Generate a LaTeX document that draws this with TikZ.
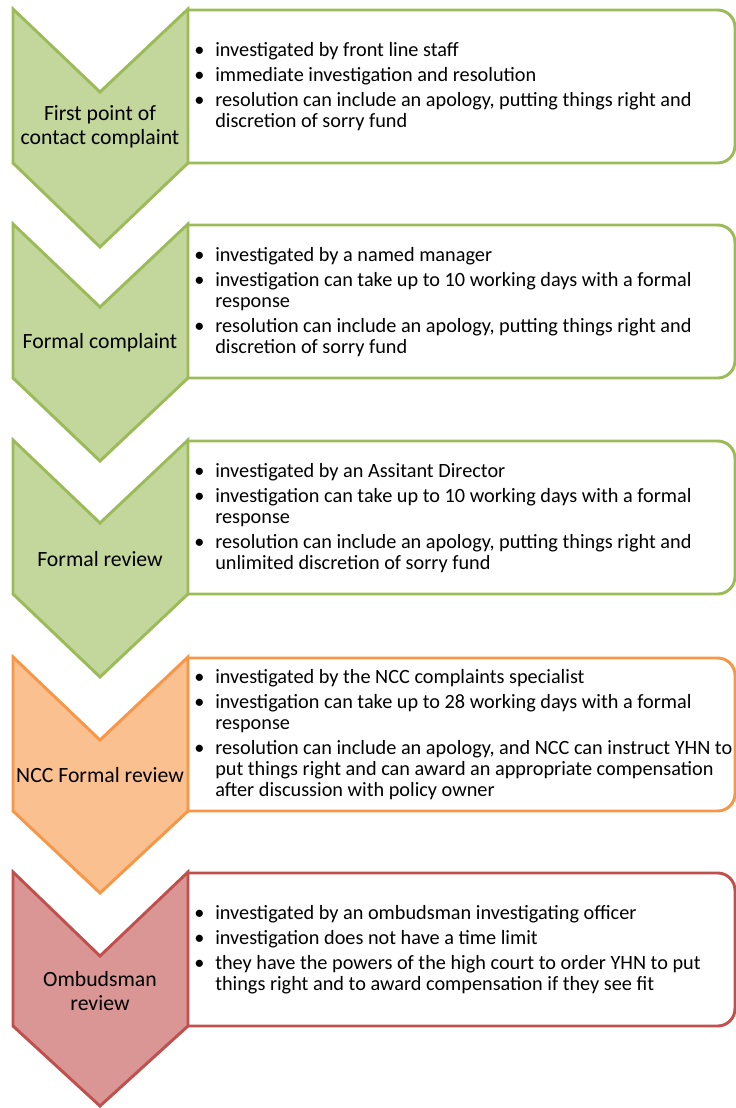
\documentclass[tikz,border=0pt]{standalone}
\usepackage{fontspec}
\setmainfont{Carlito}
\usepackage{tikz}
\usetikzlibrary{positioning}
\definecolor{greenfill}{HTML}{C3D69B}
\definecolor{greenline}{HTML}{9BBB59}
\definecolor{orangefill}{HTML}{FAC090}
\definecolor{orangeline}{HTML}{F79646}
\definecolor{redfill}{HTML}{D99694}
\definecolor{redline}{HTML}{C0504D}
\newcommand{\bl}{\makebox[15.75pt][l]{\textbullet}}
\newcommand{\ind}{\hspace*{15.75pt}}

\begin{document}
\begin{tikzpicture}[x=0.75pt,y=-0.75pt,
	chev/.style={line width=2.2pt,line join=miter},
	box/.style={line width=2.2pt,rounded corners=13},
	stage/.style={align=center,inner sep=0pt,font=\fontsize{16.3}{18}\selectfont},
	items/.style={anchor=west,align=left,inner sep=0pt,font=\fontsize{15.2}{15.75}\selectfont}]
	\useasboundingbox (0,0) rectangle (736,1108);

	% first point of contact
	\draw[box,draw=greenline] (188,10) -- (735,10) -- (735,163) -- (188,163);
	\draw[chev,draw=greenline,fill=greenfill] (13,9) -- (100,92) -- (188,9) -- (188,163) -- (100,247) -- (13,163) -- cycle;
	\node[stage] (fpoc) at (100,127) {First point of\\contact complaint};
	\node[items] (fpoc-txt) at (194,86.5) {\bl investigated by front line staff\\[3pt]
		\bl immediate investigation and resolution\\[3pt]
		\bl resolution can include an apology, putting things right and\\
		\ind discretion of sorry fund};

	% formal complaint
	\draw[box,draw=greenline] (188,225) -- (735,225) -- (735,378) -- (188,378);
	\draw[chev,draw=greenline,fill=greenfill] (13,224) -- (100,307) -- (188,224) -- (188,378) -- (100,461) -- (13,378) -- cycle;
	\node[stage] (formal) at (100,343) {Formal complaint};
	\node[items] (formal-txt) at (194,302) {\bl investigated by a named manager\\[3pt]
		\bl investigation can take up to 10 working days with a formal\\
		\ind response\\[3pt]
		\bl resolution can include an apology, putting things right and\\
		\ind discretion of sorry fund};

	% formal review
	\draw[box,draw=greenline] (188,441) -- (735,441) -- (735,594) -- (188,594);
	\draw[chev,draw=greenline,fill=greenfill] (13,440) -- (100,523) -- (188,440) -- (188,594) -- (100,677) -- (13,594) -- cycle;
	\node[stage] (review) at (100,559) {Formal review};
	\node[items] (review-txt) at (194,518) {\bl investigated by an Assitant Director\\[3pt]
		\bl investigation can take up to 10 working days with a formal\\
		\ind response\\[3pt]
		\bl resolution can include an apology, putting things right and\\
		\ind unlimited discretion of sorry fund};

	% ncc formal review
	\draw[box,draw=orangeline] (188,658) -- (735,658) -- (735,811) -- (188,811);
	\draw[chev,draw=orangeline,fill=orangefill] (13,657) -- (100,740) -- (188,657) -- (188,811) -- (100,893) -- (13,811) -- cycle;
	\node[stage] (ncc) at (100,775) {NCC Formal review};
	\node[items] (ncc-txt) at (194,735) {\bl investigated by the NCC complaints specialist\\[3pt]
		\bl investigation can take up to 28 working days with a formal\\
		\ind response\\[3pt]
		\bl resolution can include an apology, and NCC can instruct YHN to\\
		\ind put things right and can award an appropriate compensation\\
		\ind after discussion with policy owner};

	% ombudsman
	\draw[box,draw=redline] (188,873) -- (735,873) -- (735,1026) -- (188,1026);
	\draw[chev,draw=redline,fill=redfill] (13,872) -- (100,956) -- (188,872) -- (188,1026) -- (100,1106) -- (13,1026) -- cycle;
	\node[stage] (ombud) at (100,991) {Ombudsman\\review};
	\node[items] (ombud-txt) at (194,950) {\bl investigated by an ombudsman investigating officer\\[3pt]
		\bl investigation does not have a time limit\\[3pt]
		\bl they have the powers of the high court to order YHN to put\\
		\ind things right and to award compensation if they see fit};
\end{tikzpicture}
\end{document}
